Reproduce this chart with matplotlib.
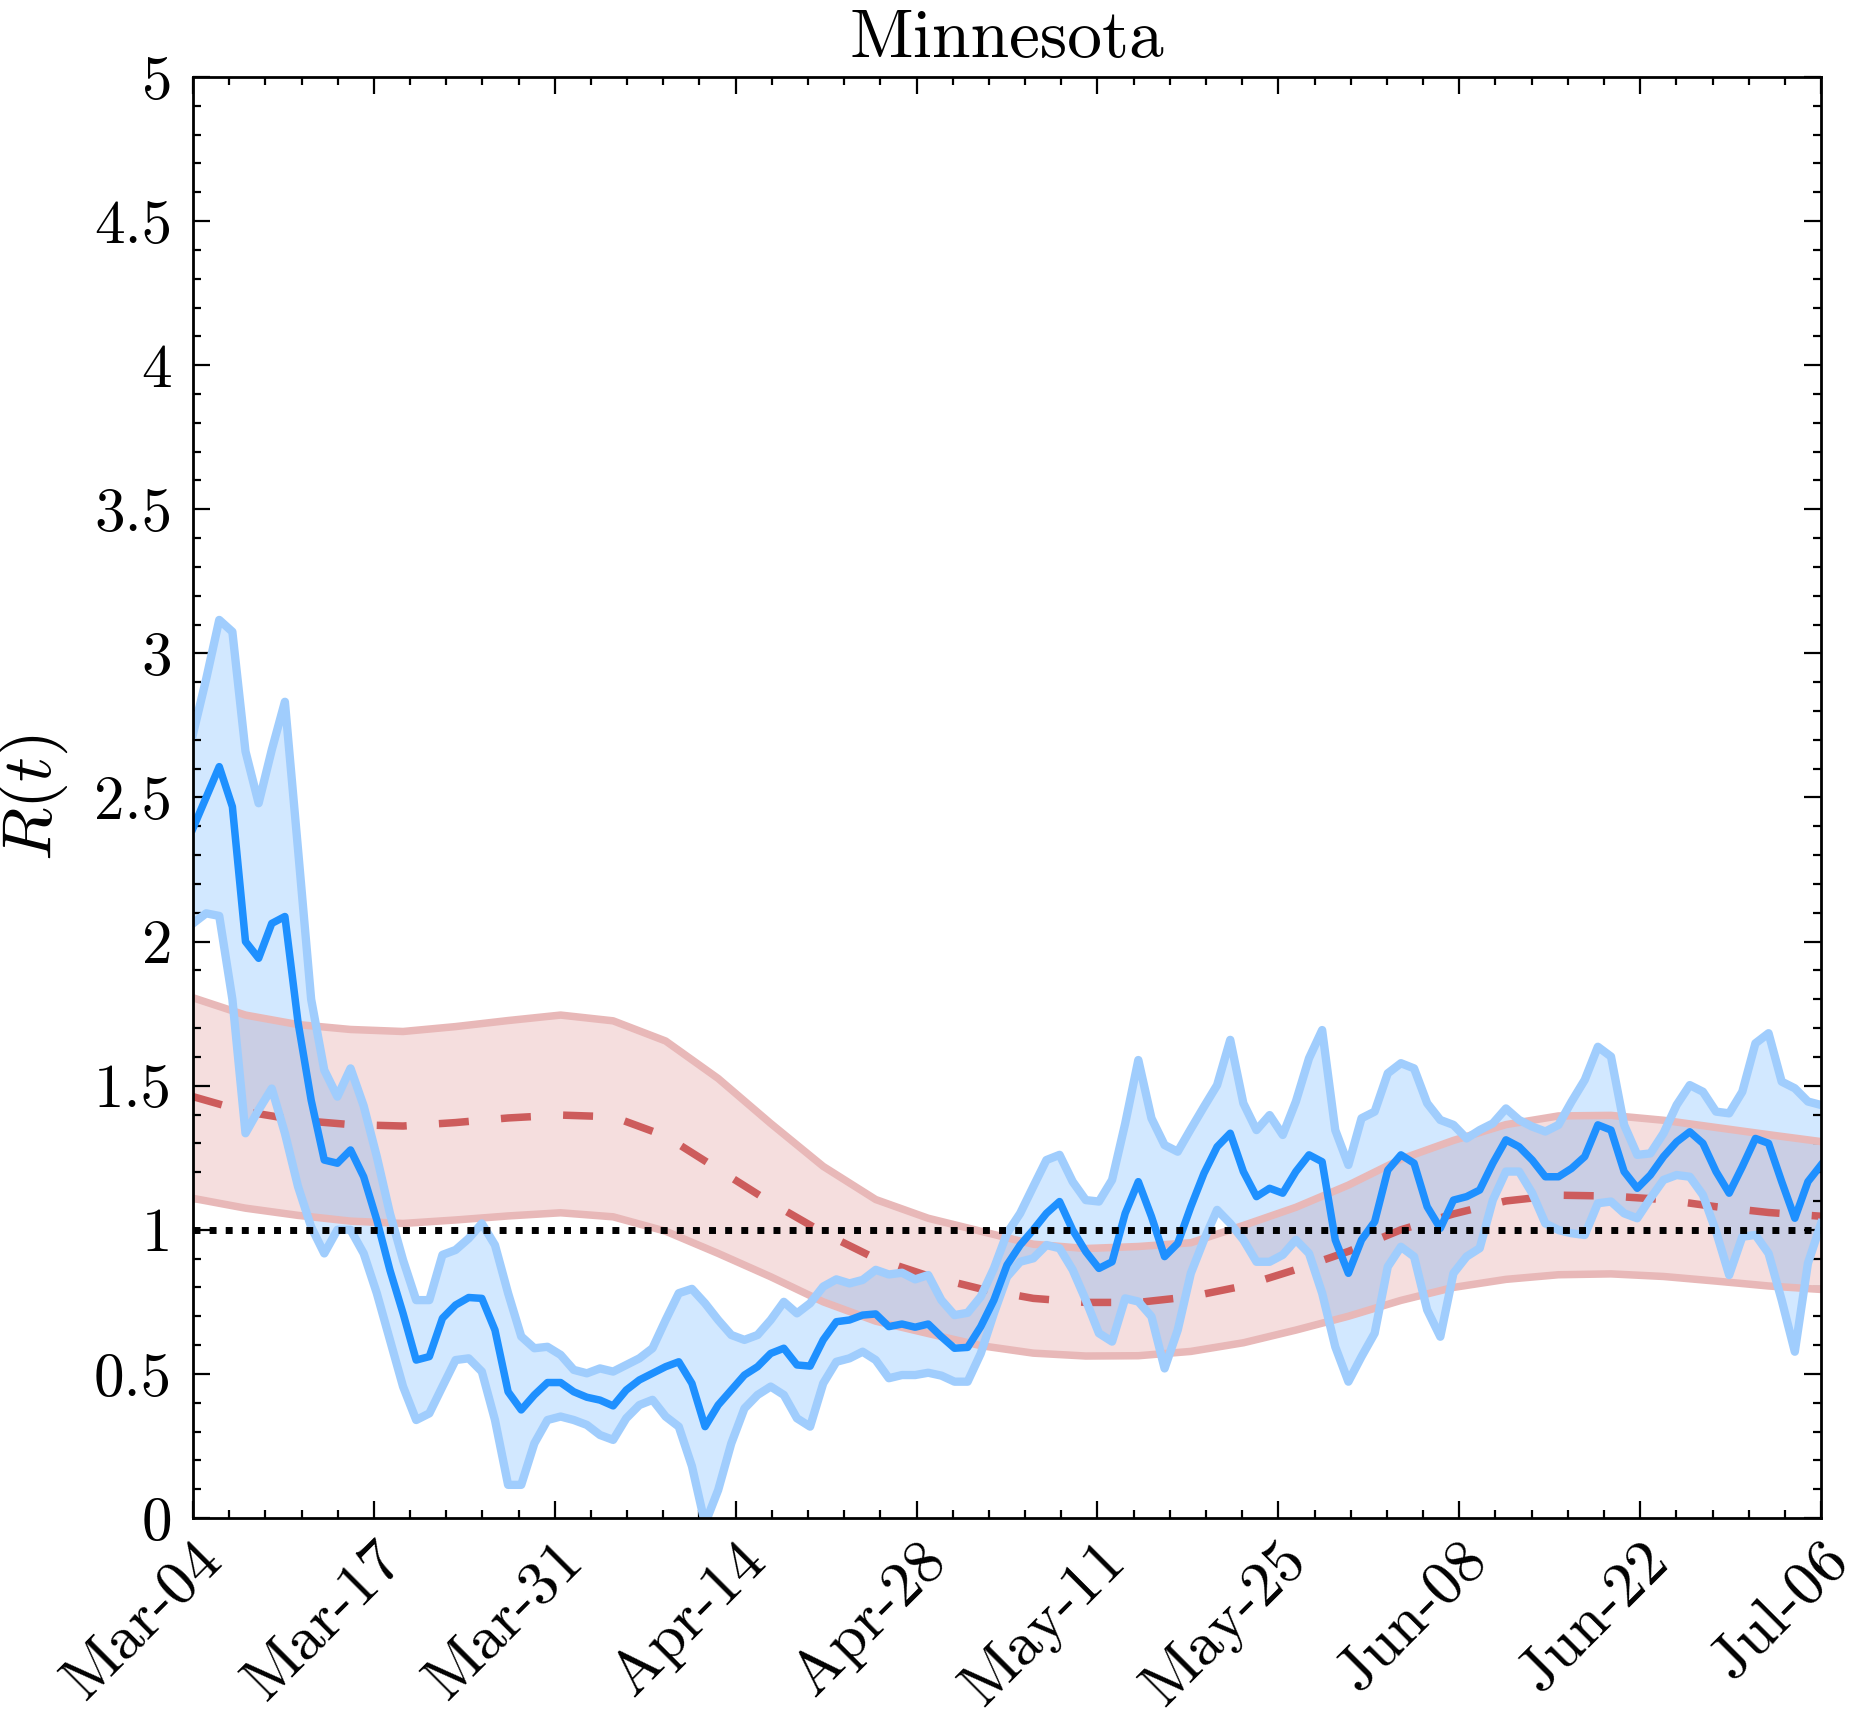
import numpy as np
import matplotlib
matplotlib.use("Agg")
from matplotlib import pyplot as plt
from matplotlib.ticker import FixedLocator

plt.rcParams['font.family'] = 'serif'
plt.rcParams['font.serif'] = ['cmr10']
plt.rcParams['mathtext.fontset'] = 'cm'
plt.rcParams['axes.formatter.use_mathtext'] = True

# daily estimate (blue) with its band, Mar-04 .. Jul-06
rt_mean = [2.393, 2.50, 2.607, 2.468, 2.00, 1.942, 2.063, 2.087, 1.72, 1.45,
           1.242, 1.231, 1.277, 1.184, 1.034, 0.86, 0.71, 0.548, 0.56, 0.693,
           0.739, 0.765, 0.762, 0.652, 0.438, 0.375, 0.427, 0.47, 0.47, 0.438,
           0.419, 0.409, 0.389, 0.444, 0.479, 0.502, 0.525, 0.542, 0.467, 0.317,
           0.392, 0.444, 0.496, 0.525, 0.571, 0.589, 0.531, 0.527, 0.618, 0.681,
           0.687, 0.704, 0.708, 0.664, 0.673, 0.662, 0.673, 0.629, 0.589, 0.592,
           0.664, 0.756, 0.878, 0.947, 1.0, 1.057, 1.098, 0.999, 0.924, 0.866,
           0.889, 1.057, 1.167, 1.046, 0.907, 0.953, 1.08, 1.196, 1.288, 1.335,
           1.202, 1.115, 1.144, 1.127, 1.202, 1.26, 1.236, 0.965, 0.849, 0.965,
           1.028, 1.207, 1.26, 1.231, 1.08, 1.005, 1.103, 1.115, 1.138, 1.231,
           1.312, 1.288, 1.242, 1.184, 1.184, 1.213, 1.254, 1.364, 1.346, 1.202,
           1.144, 1.19, 1.254, 1.305, 1.34, 1.3, 1.202, 1.127, 1.219, 1.317,
           1.3, 1.167, 1.04, 1.167, 1.225]
rt_upper = [2.72, 2.91, 3.116, 3.075, 2.66, 2.48, 2.665, 2.832, 2.32, 1.80,
            1.554, 1.462, 1.56, 1.43, 1.254, 1.057, 0.895, 0.756, 0.756, 0.913,
            0.93, 0.97, 1.022, 0.947, 0.78, 0.63, 0.589, 0.594, 0.566, 0.514,
            0.502, 0.519, 0.508, 0.531, 0.554, 0.589, 0.687, 0.78, 0.795, 0.745,
            0.687, 0.635, 0.618, 0.635, 0.687, 0.75, 0.71, 0.745, 0.803, 0.828,
            0.814, 0.826, 0.861, 0.845, 0.851, 0.828, 0.843, 0.756, 0.704, 0.712,
            0.768, 0.866, 0.988, 1.057, 1.15, 1.242, 1.26, 1.167, 1.103, 1.098,
            1.173, 1.369, 1.589, 1.387, 1.294, 1.271, 1.35, 1.427, 1.502, 1.659,
            1.439, 1.346, 1.398, 1.329, 1.445, 1.595, 1.693, 1.346, 1.225, 1.387,
            1.41, 1.543, 1.578, 1.56, 1.439, 1.381, 1.364, 1.317, 1.346, 1.369,
            1.421, 1.381, 1.358, 1.341, 1.364, 1.445, 1.52, 1.635, 1.601, 1.364,
            1.26, 1.265, 1.335, 1.433, 1.502, 1.479, 1.41, 1.404, 1.479, 1.647,
            1.682, 1.514, 1.491, 1.445, 1.433]
rt_lower = [2.063, 2.098, 2.089, 1.80, 1.335, 1.416, 1.49, 1.335, 1.15, 1.01,
            0.918, 1.0, 1.0, 0.918, 0.78, 0.618, 0.456, 0.34, 0.363, 0.456,
            0.548, 0.554, 0.508, 0.34, 0.115, 0.115, 0.259, 0.34, 0.352, 0.34,
            0.323, 0.288, 0.271, 0.346, 0.392, 0.41, 0.352, 0.317, 0.18, -0.02,
            0.097, 0.259, 0.38, 0.427, 0.456, 0.427, 0.346, 0.317, 0.467, 0.542,
            0.554, 0.577, 0.548, 0.485, 0.496, 0.496, 0.504, 0.494, 0.473, 0.473,
            0.571, 0.71, 0.837, 0.889, 0.901, 0.947, 0.936, 0.861, 0.756, 0.641,
            0.612, 0.762, 0.751, 0.699, 0.519, 0.652, 0.849, 0.965, 1.069, 1.022,
            0.965, 0.889, 0.889, 0.913, 0.965, 0.918, 0.78, 0.594, 0.473, 0.56,
            0.641, 0.872, 0.941, 0.907, 0.722, 0.629, 0.849, 0.907, 0.936, 1.103,
            1.202, 1.202, 1.127, 1.022, 0.999, 0.988, 0.982, 1.092, 1.098, 1.057,
            1.04, 1.109, 1.173, 1.19, 1.184, 1.121, 0.994, 0.843, 0.976, 0.982,
            0.918, 0.756, 0.577, 0.884, 1.022]

# smooth estimate (red), read every 4 days
smooth_days = list(range(0, 125, 4))
sm_mean = [1.462, 1.41, 1.38, 1.365, 1.36, 1.372, 1.388, 1.398, 1.392, 1.325,
           1.21, 1.095, 0.99, 0.90, 0.84, 0.795, 0.762, 0.748, 0.748, 0.768,
           0.805, 0.862, 0.925, 1.0, 1.055, 1.10, 1.12, 1.117, 1.105, 1.08,
           1.06, 1.047]
sm_upper = [1.805, 1.745, 1.712, 1.695, 1.688, 1.705, 1.726, 1.745, 1.725, 1.655,
            1.525, 1.369, 1.22, 1.105, 1.04, 0.995, 0.95, 0.935, 0.942, 0.955,
            1.015, 1.078, 1.155, 1.245, 1.31, 1.365, 1.395, 1.397, 1.38, 1.355,
            1.33, 1.306]
sm_lower = [1.109, 1.075, 1.05, 1.03, 1.022, 1.034, 1.048, 1.059, 1.045, 0.995,
            0.918, 0.837, 0.75, 0.683, 0.64, 0.598, 0.572, 0.562, 0.563, 0.578,
            0.608, 0.652, 0.70, 0.755, 0.80, 0.828, 0.844, 0.847, 0.838, 0.822,
            0.805, 0.793]

xtick_labels = ['Mar-04', 'Mar-17', 'Mar-31', 'Apr-14', 'Apr-28',
                'May-11', 'May-25', 'Jun-08', 'Jun-22', 'Jul-06']
ytick_vals = [0, 0.5, 1, 1.5, 2, 2.5, 3, 3.5, 4, 4.5, 5]
ytick_labels = ['0', '0.5', '1', '1.5', '2', '2.5', '3', '3.5', '4', '4.5', '5']

days = np.arange(len(rt_mean))
n_days = days[-1]

fig = plt.figure(figsize=(18.52, 17.25), dpi=100)
ax = fig.add_axes([0.1042, 0.12, 0.8791, 0.8354])

red = '#cd5c5c'
blue = '#1e90ff'

# red band
ax.fill_between(smooth_days, sm_lower, sm_upper, color=red, alpha=0.2, lw=0)
ax.plot(smooth_days, sm_upper, color='#e8b8b8', lw=5.4)
ax.plot(smooth_days, sm_lower, color='#e8b8b8', lw=5.4)
ax.plot(smooth_days, sm_mean, color=red, lw=5.4, dashes=(4.0, 4.3))

# blue band
ax.fill_between(days, rt_lower, rt_upper, color=blue, alpha=0.2, lw=0)
ax.plot(days, rt_upper, color='#a0cdfd', lw=6.0)
ax.plot(days, rt_lower, color='#a0cdfd', lw=6.0)
ax.plot(days, rt_mean, color=blue, lw=5.4)

ax.axhline(1, color='black', lw=5.0, dashes=(1, 1.32), dash_capstyle='butt')

ax.set_xlim(0, n_days)
ax.set_ylim(0, 5)

major_x = np.linspace(0, n_days, 10)
ax.xaxis.set_major_locator(FixedLocator(major_x))
ax.xaxis.set_minor_locator(FixedLocator(np.linspace(0, n_days, 46)))
ax.set_xticklabels(xtick_labels, rotation=45, ha='right', rotation_mode='anchor')
ax.yaxis.set_major_locator(FixedLocator(ytick_vals))
ax.yaxis.set_minor_locator(FixedLocator(np.arange(0, 5.01, 0.1)))
ax.set_yticklabels(ytick_labels)

ax.tick_params(which='both', direction='in', top=True, right=True, width=1.6)
ax.tick_params(which='major', length=12.5)
ax.tick_params(which='minor', length=5.5)
ax.tick_params(axis='y', which='major', labelsize=44, pad=15)
ax.tick_params(axis='x', which='major', labelsize=45, pad=10)
for s in ax.spines.values():
    s.set_linewidth(2)

ax.set_ylabel(r'$R(t)$', fontsize=50)
ax.yaxis.set_label_coords(-0.0755, 0.5)
ax.set_title('Minnesota', fontsize=50, pad=14)

fig.savefig('out.png', dpi=100)
